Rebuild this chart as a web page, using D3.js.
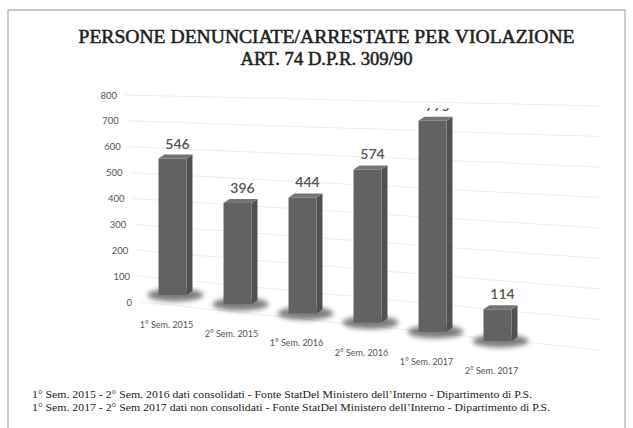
<!DOCTYPE html>
<html>
<head>
<meta charset="utf-8">
<script src="https://cdn.jsdelivr.net/npm/d3@7"></script>
<style>
  html, body { margin: 0; padding: 0; background: #fff; }
  svg { display: block; }
</style>
</head>
<body>
<svg id="chart" width="633" height="428"></svg>
<script>
// ---- data ----
const categories = ["1° Sem. 2015", "2° Sem. 2015", "1° Sem. 2016", "2° Sem. 2016", "1° Sem. 2017", "2° Sem. 2017"];
const values = [546, 396, 444, 574, 775, 114];
const yTicks = [0, 100, 200, 300, 400, 500, 600, 700, 800];
const titleLines = ["PERSONE DENUNCIATE/ARRESTATE PER VIOLAZIONE", "ART. 74 D.P.R. 309/90"];
const footnotes = [
  "1° Sem. 2015 - 2° Sem. 2016 dati consolidati - Fonte StatDel Ministero dell’Interno - Dipartimento di P.S.",
  "1° Sem. 2017 - 2° Sem 2017 dati non consolidati - Fonte StatDel Ministero dell’Interno - Dipartimento di P.S."
];

const svg = d3.select("#chart");
const defs = svg.append("defs");
defs.append("filter").attr("id", "blur").attr("x", "-50%").attr("y", "-100%").attr("width", "200%").attr("height", "300%")
  .append("feGaussianBlur").attr("stdDeviation", 2.8);
defs.append("clipPath").attr("id", "plotClip")
  .append("rect").attr("x", 0).attr("y", 108).attr("width", 633).attr("height", 320);

// frame
svg.append("path").attr("d", "M8,428V10H625V428").attr("fill", "none").attr("stroke", "#b8b8b8").attr("stroke-width", 1.4);

// title
const titleY = [43, 65];
const titleW = [496, 172];
svg.selectAll("text.title").data(titleLines).join("text")
  .attr("class", "title")
  .attr("x", 326.5).attr("y", (d, i) => titleY[i])
  .attr("text-anchor", "middle")
  .attr("textLength", (d, i) => titleW[i]).attr("lengthAdjust", "spacingAndGlyphs")
  .attr("font-family", "'Liberation Serif', 'DejaVu Serif', serif")
  .attr("font-weight", "normal").attr("font-size", 19.5).attr("fill", "#1e1e1e")
  .attr("stroke", "#1e1e1e").attr("stroke-width", 0.55)
  .text(d => d);

// ---- scales ----
const x = d3.scaleBand().domain(categories).range([140, 530]).paddingInner(0.57).paddingOuter(0.285);
const cxOf = c => x(c) + x.bandwidth() / 2;
const c0 = cxOf(categories[0]), c5 = cxOf(categories[categories.length - 1]);
const floorY = d3.scaleLinear().domain([c0, c5]).range([295, 341]);
const depth = d3.scaleLinear().domain([c0, c5]).range([0.250, 0.278]);
const axisY = d3.scaleLinear().domain([0, 800]).range([302, 95]);
const axisX = d3.scaleLinear().domain([0, 800]).range([132, 117]);
const gridRight = d3.scaleLinear().domain([0, 800]).range([350, 106]);

// gridlines (back wall)
svg.append("g").selectAll("line").data(yTicks).join("line")
  .attr("x1", d => axisX(d) + 8).attr("y1", d => axisY(d))
  .attr("x2", 600).attr("y2", d => gridRight(d))
  .attr("stroke", "#ededed").attr("stroke-width", 1);

// y tick labels
svg.append("g").selectAll("text").data(yTicks).join("text")
  .attr("x", d => axisX(d)).attr("y", d => axisY(d) + 3.5)
  .attr("text-anchor", "end")
  .attr("font-family", "Lato, 'Liberation Sans', sans-serif").attr("font-size", 9.5).attr("fill", "#555")
  .text(d => d);

// bars
const bw = x.bandwidth(), dx = 6, dy = 4;
const bars = categories.map((c, i) => {
  const cx = cxOf(c);
  const h = d3.scaleLinear().domain([0, 800]).range([0, 800 * depth(cx)]);
  const x0 = x(c);
  const yb = floorY(cx);
  const yt = yb - h(values[i]);
  return { c, v: values[i], x0, yb, yt };
});

const g = svg.append("g");
// shadows
g.selectAll("ellipse").data(bars).join("ellipse")
  .attr("cx", d => d.x0 + bw / 2 + 3).attr("cy", d => d.yb)
  .attr("rx", bw / 2 + 14).attr("ry", 6.5)
  .attr("fill", "#474747").attr("opacity", 0.7).attr("filter", "url(#blur)");
// side faces
g.selectAll("path.side").data(bars).join("path").attr("class", "side")
  .attr("d", d => `M${d.x0 + bw},${d.yt}L${d.x0 + bw + dx},${d.yt - dy}L${d.x0 + bw + dx},${d.yb - dy}L${d.x0 + bw},${d.yb}Z`)
  .attr("fill", "#515151");
// front faces
g.selectAll("rect.front").data(bars).join("rect").attr("class", "front")
  .attr("x", d => d.x0).attr("y", d => d.yt).attr("width", bw).attr("height", d => d.yb - d.yt)
  .attr("fill", "#626262");
// top faces
g.selectAll("path.top").data(bars).join("path").attr("class", "top")
  .attr("d", d => `M${d.x0},${d.yt}L${d.x0 + dx},${d.yt - dy}L${d.x0 + bw + dx},${d.yt - dy}L${d.x0 + bw},${d.yt}Z`)
  .attr("fill", "#757575");

// value labels
svg.append("g").attr("clip-path", "url(#plotClip)")
  .selectAll("text").data(bars).join("text")
  .attr("x", d => d.x0 + bw / 2 + 5).attr("y", d => d.yt - 10)
  .attr("text-anchor", "middle")
  .attr("font-family", "Lato, 'Liberation Sans', sans-serif").attr("font-size", 14).attr("font-weight", 600).attr("fill", "#555")
  .text(d => d.v);

// category labels
svg.append("g").selectAll("text").data(bars).join("text")
  .attr("x", d => d.x0 + bw / 2 - 6).attr("y", d => d.yb + 33)
  .attr("text-anchor", "middle")
  .attr("font-family", "Lato, 'Liberation Sans', sans-serif").attr("font-size", 9).attr("fill", "#555")
  .text(d => d.c);

// footnotes
const footY = [398, 411];
const footW = [500, 518];
svg.selectAll("text.foot").data(footnotes).join("text")
  .attr("class", "foot")
  .attr("x", 32).attr("y", (d, i) => footY[i])
  .attr("textLength", (d, i) => footW[i]).attr("lengthAdjust", "spacingAndGlyphs")
  .attr("font-family", "'Liberation Serif', 'DejaVu Serif', serif")
  .attr("font-size", 10.5).attr("fill", "#222")
  .text(d => d);
</script>
</body>
</html>
